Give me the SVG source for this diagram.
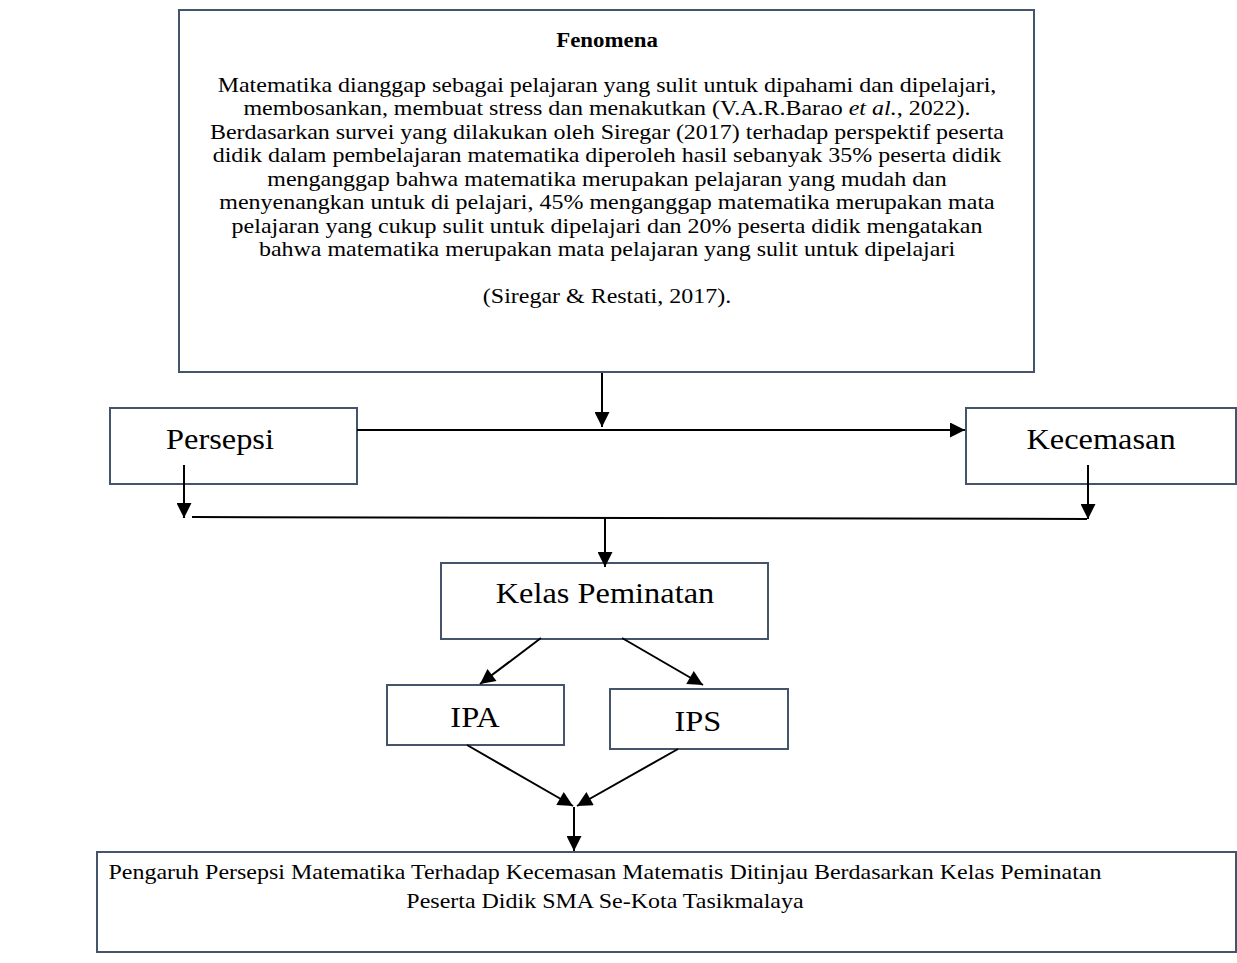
<svg xmlns="http://www.w3.org/2000/svg" width="1237" height="963" viewBox="0 0 1237 963">
<style>
.box{fill:#ffffff;stroke:#44546a;stroke-width:2}
.t{font-family:"Liberation Serif","Times New Roman",serif;fill:#000;text-anchor:middle}
.body{font-size:22px}
.big{font-size:29px}
.conn line{stroke:#000;stroke-width:2;fill:none}
</style>
<defs>
<marker id="ah" viewBox="0 0 16 16" refX="16" refY="8" markerWidth="16" markerHeight="15" markerUnits="userSpaceOnUse" orient="auto">
<path d="M0,0 L16,8 L0,16 z" fill="#000"/>
</marker>
</defs>
<rect width="1237" height="963" fill="#fff"/>
<g id="fenomena">
<rect class="box" x="179" y="10" width="855" height="362"/>
<g transform="matrix(1.09 0 0 1 -54.63 0)">
<text class="t" x="607" y="47" font-size="21" font-weight="bold">Fenomena</text>
<text class="t body" x="607" y="92">Matematika dianggap sebagai pelajaran yang sulit untuk dipahami dan dipelajari,</text>
<text class="t body" x="607" y="115.5">membosankan, membuat stress dan menakutkan (V.A.R.Barao <tspan font-style="italic">et al.</tspan>, 2022).</text>
<text class="t body" x="607" y="139">Berdasarkan survei yang dilakukan oleh Siregar (2017) terhadap perspektif peserta</text>
<text class="t body" x="607" y="162.5">didik dalam pembelajaran matematika diperoleh hasil sebanyak 35% peserta didik</text>
<text class="t body" x="607" y="186">menganggap bahwa matematika merupakan pelajaran yang mudah dan</text>
<text class="t body" x="607" y="209.5">menyenangkan untuk di pelajari, 45% menganggap matematika merupakan mata</text>
<text class="t body" x="607" y="233">pelajaran yang cukup sulit untuk dipelajari dan 20% peserta didik mengatakan</text>
<text class="t body" x="607" y="256.5">bahwa matematika merupakan mata pelajaran yang sulit untuk dipelajari</text>
<text class="t body" x="607" y="303.5">(Siregar &amp; Restati, 2017).</text>
</g>
</g>
<g id="persepsi">
<rect class="box" x="110" y="408" width="247" height="76"/>
<text class="t big" x="220" y="449" transform="matrix(1.117 0 0 1 -25.74 0)">Persepsi</text>
</g>
<g id="kecemasan">
<rect class="box" x="966" y="408" width="270" height="76"/>
<text class="t big" x="1101" y="449" transform="matrix(1.117 0 0 1 -128.8 0)">Kecemasan</text>
</g>
<g id="kelas">
<rect class="box" x="441" y="563" width="327" height="76"/>
<text class="t big" x="605" y="603" transform="matrix(1.117 0 0 1 -70.8 0)">Kelas Peminatan</text>
</g>
<g id="ipa">
<rect class="box" x="387" y="685" width="177" height="60"/>
<text class="t big" x="475" y="727" transform="matrix(1.117 0 0 1 -55.6 0)">IPA</text>
</g>
<g id="ips">
<rect class="box" x="610" y="689" width="178" height="60"/>
<text class="t big" x="698" y="731" transform="matrix(1.117 0 0 1 -81.7 0)">IPS</text>
</g>
<g id="pengaruh">
<rect class="box" x="97" y="852" width="1139" height="100"/>
<g transform="matrix(1.09 0 0 1 -54.45 0)">
<text class="t body" x="605" y="879">Pengaruh Persepsi Matematika Terhadap Kecemasan Matematis Ditinjau Berdasarkan Kelas Peminatan</text>
<text class="t body" x="605" y="908">Peserta Didik SMA Se-Kota Tasikmalaya</text>
</g>
</g>
<g class="conn" id="connectors">
<line x1="602" y1="373" x2="602" y2="427" marker-end="url(#ah)"/>
<line x1="357" y1="430" x2="965" y2="430" marker-end="url(#ah)"/>
<line x1="184" y1="465" x2="184" y2="518" marker-end="url(#ah)"/>
<line x1="1088" y1="465" x2="1088" y2="519" marker-end="url(#ah)"/>
<line x1="192" y1="517" x2="1087" y2="519"/>
<line x1="605" y1="518" x2="605" y2="567" marker-end="url(#ah)"/>
<line x1="541" y1="638" x2="480" y2="684" marker-end="url(#ah)"/>
<line x1="622" y1="638" x2="703" y2="685" marker-end="url(#ah)"/>
<line x1="467" y1="745" x2="573" y2="806" marker-end="url(#ah)"/>
<line x1="678" y1="749" x2="577" y2="806" marker-end="url(#ah)"/>
<line x1="574" y1="807" x2="574" y2="851" marker-end="url(#ah)"/>
</g>
</svg>
